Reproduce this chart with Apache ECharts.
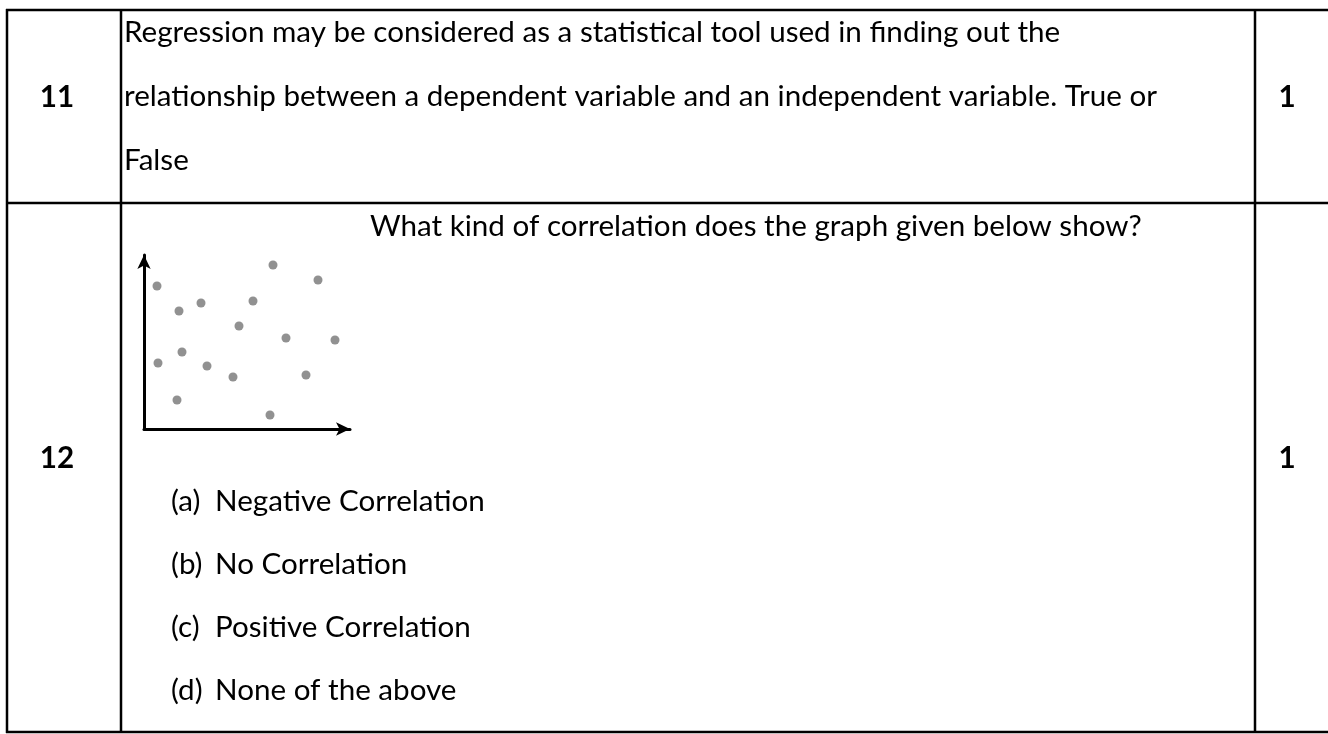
<!DOCTYPE html>
<html>
<head>
<meta charset="utf-8">
<script src="https://cdn.jsdelivr.net/npm/echarts@6/dist/echarts.min.js"></script>
<style>
  html, body { margin: 0; padding: 0; background: #fff; }
  #chart { width: 1328px; height: 734px; }
</style>
</head>
<body>
<div id="chart"></div>
<script>
// scatter points, in pixels from the plot origin
var dotX = [13, 35, 57, 129, 109, 174, 95, 142, 191, 38, 14, 63, 89, 162, 33, 126];
var dotY = [143, 118, 126, 164, 128, 149, 103, 91, 89, 77, 66, 63, 52, 54, 29, 14];

var q11Lines = [
    'Regression may be considered as a statistical tool used in finding out the',
    'relationship between a dependent variable and an independent variable. True or',
    'False'
];
var q12Question = 'What kind of correlation does the graph given below show?';
var optLabels = ['(a)', '(b)', '(c)', '(d)'];
var optTexts = ['Negative Correlation', 'No Correlation', 'Positive Correlation', 'None of the above'];

var FONT = 'Lato, "Open Sans", sans-serif';

/* fit the font size to the width of the first line */
var ctx = document.createElement('canvas').getContext('2d');
ctx.font = '100px Lato';
var fs = 100 * 938 / ctx.measureText(q11Lines[0]).width;

var myChart = echarts.init(document.getElementById('chart'));

var g = [];
function hline(y, x1, x2) {
    g.push({ type: 'line', shape: { x1: x1, y1: y, x2: x2, y2: y }, style: { stroke: '#000', lineWidth: 2.5 } });
}
function vline(x, y1, y2) {
    g.push({ type: 'line', shape: { x1: x, y1: y1, x2: x, y2: y2 }, style: { stroke: '#000', lineWidth: 2.5 } });
}
function txt(s, x, y, bold, align) {
    g.push({
        type: 'text', x: x, y: y,
        style: {
            text: s, fill: '#000', font: (bold ? 'bold ' : '') + fs.toFixed(1) + 'px ' + FONT,
            textAlign: align || 'left', textVerticalAlign: 'middle'
        }
    });
}

// table
hline(10, 6, 1328);
hline(203, 6, 1328);
hline(732, 6, 1328);
vline(7, 9, 733);
vline(121, 9, 733);
vline(1255, 9, 733);

// row 11
txt('11', 57, 97, true, 'center');
for (var i = 0; i < q11Lines.length; i++) {
    txt(q11Lines[i], 124, 32 + i * 64);
}
txt('1', 1287, 97, true, 'center');

// row 12
txt('12', 57, 458, true, 'center');
txt(q12Question, 370, 226);
for (var j = 0; j < optLabels.length; j++) {
    txt(optLabels[j], 171, 501 + j * 63);
    txt(optTexts[j], 215, 501 + j * 63);
}
txt('1', 1287, 458, true, 'center');

var pts = [];
for (var k = 0; k < dotX.length; k++) pts.push([dotX[k], dotY[k]]);

myChart.setOption({
    animation: false,
    backgroundColor: '#fff',
    grid: { left: 144, top: 255, width: 206, height: 174 },
    xAxis: {
        type: 'value', min: 0, max: 206,
        axisLine: { show: true, lineStyle: { color: '#000', width: 3 }, symbol: ['none', 'arrow'], symbolSize: [10, 14] },
        axisTick: { show: false }, axisLabel: { show: false }, splitLine: { show: false }
    },
    yAxis: {
        type: 'value', min: 0, max: 174,
        axisLine: { show: true, lineStyle: { color: '#000', width: 3 }, symbol: ['none', 'arrow'], symbolSize: [10, 14] },
        axisTick: { show: false }, axisLabel: { show: false }, splitLine: { show: false }
    },
    series: [{
        type: 'scatter',
        data: pts,
        symbolSize: 9,
        itemStyle: { color: '#767676' }
    }],
    graphic: g
});
</script>
</body>
</html>
